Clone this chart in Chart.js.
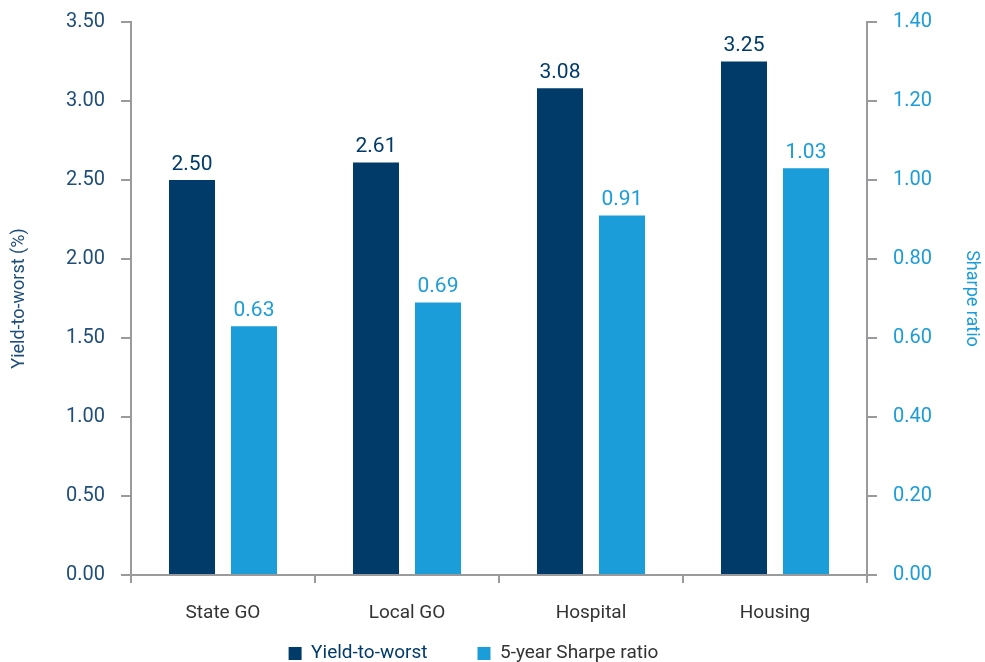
<!DOCTYPE html>
<html>
<head>
<meta charset="utf-8">
<script src="https://cdn.jsdelivr.net/npm/chart.js@4/dist/chart.umd.min.js"></script>
<style>
  html, body { margin: 0; padding: 0; background: #fff; }
  #wrap { width: 985px; height: 662px; position: relative; }
</style>
</head>
<body>
<div id="wrap"><canvas id="chart"></canvas></div>
<script>
const categories = ['State GO', 'Local GO', 'Hospital', 'Housing'];
const yieldToWorst = [2.50, 2.61, 3.08, 3.25];
const sharpeRatio = [0.63, 0.69, 0.91, 1.03];
const leftTicks = [0, 0.5, 1, 1.5, 2, 2.5, 3, 3.5];
const rightTicks = [0, 0.2, 0.4, 0.6, 0.8, 1.0, 1.2, 1.4];

const NAVY = '#003b6a';
const LIGHT = '#1a9dd9';
const AXIS = '#9a9a9c';
const FONT = 'Roboto, "Liberation Sans", sans-serif';

// value labels above each bar
const barLabels = {
  id: 'barLabels',
  afterDatasetsDraw(chart) {
    const ctx = chart.ctx;
    ctx.save();
    ctx.font = '21px ' + FONT;
    ctx.textAlign = 'center';
    ctx.textBaseline = 'bottom';
    chart.data.datasets.forEach((ds, i) => {
      const meta = chart.getDatasetMeta(i);
      ctx.fillStyle = ds.backgroundColor;
      meta.data.forEach((bar, j) => {
        ctx.fillText(ds.data[j].toFixed(2), bar.x, bar.y - 5);
      });
    });
    ctx.restore();
  }
};

// wide gap between legend items without a tall legend box
const legendFit = {
  id: 'legendFit',
  afterInit(chart) {
    const lg = chart.legend;
    const origFit = lg.fit.bind(lg);
    const origDraw = lg._draw.bind(lg);
    lg.fit = function () { origFit(); this.height = 37; };
    lg._draw = function () {
      const c = this.ctx;
      c.save();
      c.translate(-22, -31);
      origDraw();
      c.restore();
    };
  }
};

function noVPad(scale) {
  scale.paddingTop = 0;
  scale.paddingBottom = 0;
}

new Chart(document.getElementById('chart'), {
  type: 'bar',
  data: {
    labels: categories,
    datasets: [
      { label: 'Yield-to-worst', data: yieldToWorst, backgroundColor: NAVY, yAxisID: 'y', categoryPercentage: 0.674, barPercentage: 0.742 },
      { label: '5-year Sharpe ratio', data: sharpeRatio, backgroundColor: LIGHT, yAxisID: 'y1', categoryPercentage: 0.674, barPercentage: 0.742 }
    ]
  },
  options: {
    responsive: true,
    maintainAspectRatio: false,
    animation: false,
    layout: { padding: { top: 22, left: 9, right: 3, bottom: 0 } },
    plugins: {
      tooltip: { enabled: false },
      legend: {
        position: 'bottom',
        labels: {
          font: { family: FONT, size: 19 },
          boxWidth: 13,
          boxHeight: 13,
          padding: 50,
          generateLabels(chart) {
            const colors = [NAVY, '#333333'];
            return chart.data.datasets.map((ds, i) => ({
              text: ds.label,
              fillStyle: ds.backgroundColor,
              strokeStyle: ds.backgroundColor,
              lineWidth: 0,
              fontColor: colors[i],
              datasetIndex: i
            }));
          }
        }
      }
    },
    scales: {
      x: {
        grid: { display: true, drawOnChartArea: false, color: AXIS, tickLength: 8, lineWidth: 2 },
        border: { color: AXIS, width: 2 },
        ticks: { color: '#333333', font: { family: FONT, size: 19 }, padding: 19, autoSkip: false, maxRotation: 0 },
        afterFit(scale) { scale.height = 50; }
      },
      y: {
        position: 'left',
        min: 0, max: 3.5,
        afterBuildTicks(scale) { scale.ticks = leftTicks.map(v => ({ value: v })); },
        grid: { drawOnChartArea: false, color: AXIS, tickLength: 10, lineWidth: 2 },
        border: { color: AXIS, width: 2 },
        ticks: { color: '#1f4e79', font: { family: FONT, size: 20 }, padding: 16, callback: v => v.toFixed(2) },
        title: { display: true, text: 'Yield-to-worst (%)', color: '#1f4e79', font: { family: FONT, size: 18 }, padding: 0 },
        afterFit(scale) { scale.width = 122; noVPad(scale); }
      },
      y1: {
        position: 'right',
        min: 0, max: 1.4,
        afterBuildTicks(scale) { scale.ticks = rightTicks.map(v => ({ value: v })); },
        grid: { drawOnChartArea: false, color: AXIS, tickLength: 10, lineWidth: 2 },
        border: { color: AXIS, width: 2 },
        ticks: { color: LIGHT, font: { family: FONT, size: 20 }, padding: 16, callback: v => v.toFixed(2) },
        title: { display: true, text: 'Sharpe ratio', color: LIGHT, font: { family: FONT, size: 18 }, padding: 0 },
        afterFit(scale) { scale.width = 115; noVPad(scale); }
      }
    }
  },
  plugins: [barLabels, legendFit]
});
</script>
</body>
</html>
